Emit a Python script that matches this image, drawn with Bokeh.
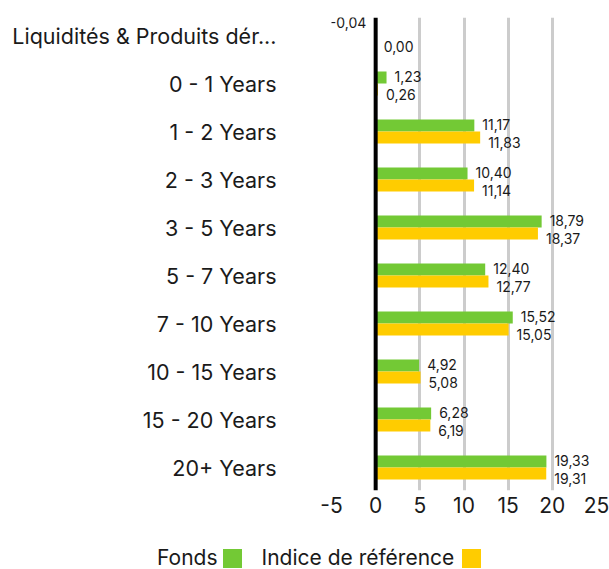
from bokeh.plotting import figure
from bokeh.layouts import column
from bokeh.models import ColumnDataSource, FixedTicker, Span, Div
from bokeh.core.properties import value
from bokeh.embed import file_html
from bokeh.resources import INLINE

categories = ["Liquidités & Produits dér...", "0 - 1 Years", "1 - 2 Years", "2 - 3 Years",
              "3 - 5 Years", "5 - 7 Years", "7 - 10 Years", "10 - 15 Years",
              "15 - 20 Years", "20+ Years"]
fonds = [-0.04, 1.23, 11.17, 10.40, 18.79, 12.40, 15.52, 4.92, 6.28, 19.33]
indice = [0.00, 0.26, 11.83, 11.14, 18.37, 12.77, 15.05, 5.08, 6.19, 19.31]
x_ticks = [-5, 0, 5, 10, 15, 20, 25]
series_names = ["Fonds", "Indice de référence"]

GREEN = "#73C935"
YELLOW = "#FFCC00"
TXT = "#1A1A1A"
FONT = "Inter"

n = len(categories)
pos = [n - 1 - i for i in range(n)]

def fmt(v):
    return f"{v:.2f}".replace(".", ",")

def src(vals, dy, lab_dy):
    return ColumnDataSource(dict(
        y=[p + dy for p in pos],
        right=vals,
        lx=vals,
        lab=[fmt(v) for v in vals],
        align=["right" if v < 0 else "left" for v in vals],
        xo=[-9 if v < 0 else 8 for v in vals],
        yo=[-7 if v < 0 else lab_dy for v in vals],
    ))

s_f = src(fonds, 0.125, -1)
s_i = src(indice, -0.125, 5)

p = figure(width=609, height=530, x_range=(-5, 25), y_range=(-0.479, 9.375),
           output_backend="svg", toolbar_location=None,
           min_border_left=331, min_border_right=13, min_border_top=17, min_border_bottom=40)
p.outline_line_color = None

p.hbar(y="y", left=0, right="right", height=0.25, source=s_f, fill_color=GREEN, line_color=None)
p.hbar(y="y", left=0, right="right", height=0.25, source=s_i, fill_color=YELLOW, line_color=None)

for s in (s_f, s_i):
    p.text(x="lx", y="y", text="lab", source=s, text_align="align", text_baseline="middle",
           x_offset="xo", y_offset="yo", text_font=value(FONT), text_font_size="14px",
           text_color=TXT)

p.add_layout(Span(location=0, dimension="height", line_color="black", line_width=4))

p.xgrid.ticker = FixedTicker(ticks=[t for t in x_ticks if t > 0])
p.xgrid.grid_line_color = "#CCCCCC"
p.xgrid.grid_line_width = 3
p.ygrid.visible = False

p.xaxis.ticker = FixedTicker(ticks=x_ticks)
p.xaxis.major_label_overrides = {t: str(t) for t in x_ticks}
p.xaxis.axis_line_color = None
p.xaxis.major_tick_line_color = None
p.xaxis.minor_tick_line_color = None
p.xaxis.major_label_text_font = FONT
p.xaxis.major_label_text_font_size = "21px"
p.xaxis.major_label_text_color = TXT
p.xaxis.major_label_standoff = 0

p.yaxis.ticker = FixedTicker(ticks=pos)
p.yaxis.major_label_overrides = {pp: c for pp, c in zip(pos, categories)}
p.yaxis.axis_line_color = None
p.yaxis.major_tick_line_color = None
p.yaxis.minor_tick_line_color = None
p.yaxis.major_label_text_font = FONT
p.yaxis.major_label_text_font_size = "21.5px"
p.yaxis.major_label_text_color = TXT
p.yaxis.major_label_standoff = 49

sq = "display:inline-block;width:19px;height:19px;"
legend_html = (
    f'<div style="display:flex;align-items:center;height:35px;padding-left:152px;'
    f'padding-top:11px;box-sizing:border-box;font-family:{FONT};font-size:21px;'
    f'color:{TXT};white-space:nowrap;line-height:22px;">'
    f'<span>{series_names[0]}</span>'
    f'<span style="{sq}background:{GREEN};margin-left:5px;"></span>'
    f'<span style="margin-left:20px;">{series_names[1]}</span>'
    f'<span style="{sq}background:{YELLOW};margin-left:8px;"></span>'
    f'</div>'
)
legend_div = Div(text=legend_html, width=609, height=39)

layout = column(p, legend_div, spacing=0)
open("out.html", "w").write(file_html(layout, INLINE))
